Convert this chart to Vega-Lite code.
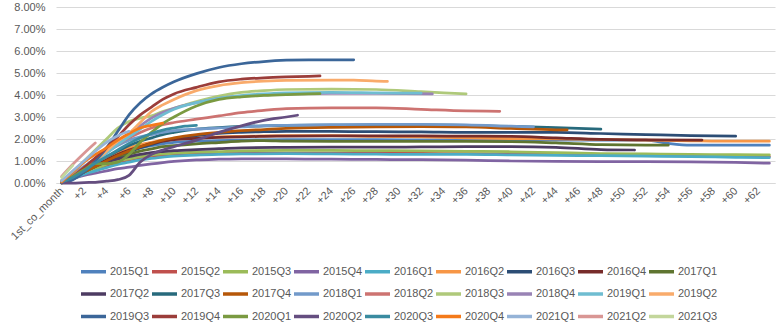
{
"$schema":"https://vega.github.io/schema/vega-lite/v6.json",
"width":719,"height":176,
"autosize":{"type":"none"},
"padding":{"left":56,"top":7,"right":8,"bottom":145},
"background":"#ffffff",
"config":{"view":{"stroke":null},"font":"Liberation Sans"},
"datasets":{"d":[
{"s":"2015Q1","m":0,"v":0.1},{"s":"2015Q1","m":1,"v":0.35},{"s":"2015Q1","m":2,"v":0.6},{"s":"2015Q1","m":3,"v":0.85},{"s":"2015Q1","m":4,"v":1.1},{"s":"2015Q1","m":5,"v":1.3},{"s":"2015Q1","m":6,"v":1.45},{"s":"2015Q1","m":7,"v":1.6},{"s":"2015Q1","m":8,"v":1.7},{"s":"2015Q1","m":9,"v":1.78},{"s":"2015Q1","m":10,"v":1.85},{"s":"2015Q1","m":12,"v":1.9},{"s":"2015Q1","m":14,"v":1.93},{"s":"2015Q1","m":16,"v":1.95},{"s":"2015Q1","m":20,"v":1.97},{"s":"2015Q1","m":24,"v":1.97},{"s":"2015Q1","m":28,"v":1.97},{"s":"2015Q1","m":32,"v":1.96},{"s":"2015Q1","m":36,"v":1.95},{"s":"2015Q1","m":40,"v":1.95},{"s":"2015Q1","m":44,"v":1.95},{"s":"2015Q1","m":48,"v":1.95},{"s":"2015Q1","m":52,"v":1.95},{"s":"2015Q1","m":54,"v":1.8},{"s":"2015Q1","m":56,"v":1.72},{"s":"2015Q1","m":60,"v":1.72},{"s":"2015Q1","m":63,"v":1.72},
{"s":"2015Q2","m":0,"v":0.05},{"s":"2015Q2","m":1,"v":0.2},{"s":"2015Q2","m":2,"v":0.4},{"s":"2015Q2","m":3,"v":0.6},{"s":"2015Q2","m":4,"v":0.8},{"s":"2015Q2","m":5,"v":0.95},{"s":"2015Q2","m":6,"v":1.05},{"s":"2015Q2","m":7,"v":1.15},{"s":"2015Q2","m":8,"v":1.2},{"s":"2015Q2","m":9,"v":1.25},{"s":"2015Q2","m":10,"v":1.28},{"s":"2015Q2","m":12,"v":1.32},{"s":"2015Q2","m":14,"v":1.34},{"s":"2015Q2","m":16,"v":1.35},{"s":"2015Q2","m":20,"v":1.36},{"s":"2015Q2","m":24,"v":1.36},{"s":"2015Q2","m":28,"v":1.36},{"s":"2015Q2","m":32,"v":1.35},{"s":"2015Q2","m":36,"v":1.33},{"s":"2015Q2","m":40,"v":1.32},{"s":"2015Q2","m":44,"v":1.3},{"s":"2015Q2","m":48,"v":1.28},{"s":"2015Q2","m":52,"v":1.26},{"s":"2015Q2","m":56,"v":1.24},{"s":"2015Q2","m":60,"v":1.22},{"s":"2015Q2","m":63,"v":1.2},
{"s":"2015Q3","m":0,"v":0.05},{"s":"2015Q3","m":1,"v":0.25},{"s":"2015Q3","m":2,"v":0.45},{"s":"2015Q3","m":3,"v":0.65},{"s":"2015Q3","m":4,"v":0.85},{"s":"2015Q3","m":5,"v":1.0},{"s":"2015Q3","m":6,"v":1.1},{"s":"2015Q3","m":7,"v":1.2},{"s":"2015Q3","m":8,"v":1.27},{"s":"2015Q3","m":9,"v":1.32},{"s":"2015Q3","m":10,"v":1.36},{"s":"2015Q3","m":12,"v":1.4},{"s":"2015Q3","m":14,"v":1.43},{"s":"2015Q3","m":16,"v":1.46},{"s":"2015Q3","m":20,"v":1.48},{"s":"2015Q3","m":24,"v":1.48},{"s":"2015Q3","m":28,"v":1.47},{"s":"2015Q3","m":32,"v":1.46},{"s":"2015Q3","m":36,"v":1.44},{"s":"2015Q3","m":40,"v":1.42},{"s":"2015Q3","m":44,"v":1.38},{"s":"2015Q3","m":48,"v":1.34},{"s":"2015Q3","m":52,"v":1.32},{"s":"2015Q3","m":56,"v":1.3},{"s":"2015Q3","m":60,"v":1.29},{"s":"2015Q3","m":63,"v":1.28},
{"s":"2015Q4","m":0,"v":0.05},{"s":"2015Q4","m":1,"v":0.2},{"s":"2015Q4","m":2,"v":0.35},{"s":"2015Q4","m":3,"v":0.45},{"s":"2015Q4","m":4,"v":0.55},{"s":"2015Q4","m":5,"v":0.65},{"s":"2015Q4","m":6,"v":0.72},{"s":"2015Q4","m":7,"v":0.8},{"s":"2015Q4","m":8,"v":0.87},{"s":"2015Q4","m":9,"v":0.93},{"s":"2015Q4","m":10,"v":0.98},{"s":"2015Q4","m":12,"v":1.05},{"s":"2015Q4","m":14,"v":1.08},{"s":"2015Q4","m":16,"v":1.1},{"s":"2015Q4","m":20,"v":1.1},{"s":"2015Q4","m":24,"v":1.08},{"s":"2015Q4","m":28,"v":1.07},{"s":"2015Q4","m":32,"v":1.06},{"s":"2015Q4","m":36,"v":1.04},{"s":"2015Q4","m":40,"v":1.0},{"s":"2015Q4","m":44,"v":0.98},{"s":"2015Q4","m":48,"v":0.97},{"s":"2015Q4","m":52,"v":0.97},{"s":"2015Q4","m":56,"v":0.96},{"s":"2015Q4","m":60,"v":0.94},{"s":"2015Q4","m":63,"v":0.9},
{"s":"2016Q1","m":0,"v":0.05},{"s":"2016Q1","m":1,"v":0.2},{"s":"2016Q1","m":2,"v":0.4},{"s":"2016Q1","m":3,"v":0.55},{"s":"2016Q1","m":4,"v":0.7},{"s":"2016Q1","m":5,"v":0.85},{"s":"2016Q1","m":6,"v":0.95},{"s":"2016Q1","m":7,"v":1.05},{"s":"2016Q1","m":8,"v":1.12},{"s":"2016Q1","m":9,"v":1.18},{"s":"2016Q1","m":10,"v":1.22},{"s":"2016Q1","m":12,"v":1.27},{"s":"2016Q1","m":14,"v":1.3},{"s":"2016Q1","m":16,"v":1.32},{"s":"2016Q1","m":20,"v":1.33},{"s":"2016Q1","m":24,"v":1.32},{"s":"2016Q1","m":28,"v":1.31},{"s":"2016Q1","m":32,"v":1.3},{"s":"2016Q1","m":36,"v":1.3},{"s":"2016Q1","m":40,"v":1.28},{"s":"2016Q1","m":44,"v":1.26},{"s":"2016Q1","m":48,"v":1.24},{"s":"2016Q1","m":52,"v":1.22},{"s":"2016Q1","m":56,"v":1.2},{"s":"2016Q1","m":60,"v":1.17},{"s":"2016Q1","m":63,"v":1.15},
{"s":"2016Q2","m":0,"v":0.05},{"s":"2016Q2","m":1,"v":0.3},{"s":"2016Q2","m":2,"v":0.6},{"s":"2016Q2","m":3,"v":0.9},{"s":"2016Q2","m":4,"v":1.15},{"s":"2016Q2","m":5,"v":1.4},{"s":"2016Q2","m":6,"v":1.6},{"s":"2016Q2","m":7,"v":1.75},{"s":"2016Q2","m":8,"v":1.85},{"s":"2016Q2","m":9,"v":1.95},{"s":"2016Q2","m":10,"v":2.0},{"s":"2016Q2","m":12,"v":2.05},{"s":"2016Q2","m":14,"v":2.1},{"s":"2016Q2","m":16,"v":2.12},{"s":"2016Q2","m":20,"v":2.15},{"s":"2016Q2","m":24,"v":2.15},{"s":"2016Q2","m":28,"v":2.12},{"s":"2016Q2","m":32,"v":2.1},{"s":"2016Q2","m":36,"v":2.05},{"s":"2016Q2","m":40,"v":2.02},{"s":"2016Q2","m":44,"v":2.0},{"s":"2016Q2","m":48,"v":1.98},{"s":"2016Q2","m":52,"v":1.95},{"s":"2016Q2","m":56,"v":1.92},{"s":"2016Q2","m":60,"v":1.9},{"s":"2016Q2","m":63,"v":1.9},
{"s":"2016Q3","m":0,"v":0.05},{"s":"2016Q3","m":1,"v":0.25},{"s":"2016Q3","m":2,"v":0.5},{"s":"2016Q3","m":3,"v":0.75},{"s":"2016Q3","m":4,"v":1.0},{"s":"2016Q3","m":5,"v":1.2},{"s":"2016Q3","m":6,"v":1.4},{"s":"2016Q3","m":7,"v":1.6},{"s":"2016Q3","m":8,"v":1.75},{"s":"2016Q3","m":9,"v":1.9},{"s":"2016Q3","m":10,"v":2.0},{"s":"2016Q3","m":12,"v":2.15},{"s":"2016Q3","m":14,"v":2.25},{"s":"2016Q3","m":16,"v":2.3},{"s":"2016Q3","m":18,"v":2.33},{"s":"2016Q3","m":20,"v":2.35},{"s":"2016Q3","m":24,"v":2.35},{"s":"2016Q3","m":28,"v":2.33},{"s":"2016Q3","m":32,"v":2.32},{"s":"2016Q3","m":36,"v":2.3},{"s":"2016Q3","m":40,"v":2.3},{"s":"2016Q3","m":44,"v":2.3},{"s":"2016Q3","m":48,"v":2.25},{"s":"2016Q3","m":52,"v":2.2},{"s":"2016Q3","m":56,"v":2.15},{"s":"2016Q3","m":60,"v":2.13},
{"s":"2016Q4","m":0,"v":0.05},{"s":"2016Q4","m":1,"v":0.3},{"s":"2016Q4","m":2,"v":0.55},{"s":"2016Q4","m":3,"v":0.8},{"s":"2016Q4","m":4,"v":1.05},{"s":"2016Q4","m":5,"v":1.3},{"s":"2016Q4","m":6,"v":1.5},{"s":"2016Q4","m":7,"v":1.65},{"s":"2016Q4","m":8,"v":1.8},{"s":"2016Q4","m":9,"v":1.9},{"s":"2016Q4","m":10,"v":1.97},{"s":"2016Q4","m":12,"v":2.03},{"s":"2016Q4","m":14,"v":2.07},{"s":"2016Q4","m":16,"v":2.1},{"s":"2016Q4","m":18,"v":2.12},{"s":"2016Q4","m":20,"v":2.13},{"s":"2016Q4","m":24,"v":2.14},{"s":"2016Q4","m":28,"v":2.14},{"s":"2016Q4","m":32,"v":2.14},{"s":"2016Q4","m":36,"v":2.13},{"s":"2016Q4","m":40,"v":2.12},{"s":"2016Q4","m":44,"v":2.05},{"s":"2016Q4","m":48,"v":1.98},{"s":"2016Q4","m":52,"v":1.96},{"s":"2016Q4","m":57,"v":1.95},
{"s":"2017Q1","m":0,"v":0.05},{"s":"2017Q1","m":1,"v":0.25},{"s":"2017Q1","m":2,"v":0.5},{"s":"2017Q1","m":3,"v":0.75},{"s":"2017Q1","m":4,"v":0.95},{"s":"2017Q1","m":5,"v":1.15},{"s":"2017Q1","m":6,"v":1.3},{"s":"2017Q1","m":7,"v":1.45},{"s":"2017Q1","m":8,"v":1.55},{"s":"2017Q1","m":9,"v":1.65},{"s":"2017Q1","m":10,"v":1.7},{"s":"2017Q1","m":12,"v":1.78},{"s":"2017Q1","m":14,"v":1.84},{"s":"2017Q1","m":16,"v":1.9},{"s":"2017Q1","m":18,"v":1.93},{"s":"2017Q1","m":20,"v":1.9},{"s":"2017Q1","m":24,"v":1.89},{"s":"2017Q1","m":28,"v":1.89},{"s":"2017Q1","m":32,"v":1.89},{"s":"2017Q1","m":36,"v":1.89},{"s":"2017Q1","m":40,"v":1.88},{"s":"2017Q1","m":44,"v":1.82},{"s":"2017Q1","m":48,"v":1.74},{"s":"2017Q1","m":52,"v":1.72},{"s":"2017Q1","m":54,"v":1.72},
{"s":"2017Q2","m":0,"v":0.05},{"s":"2017Q2","m":1,"v":0.3},{"s":"2017Q2","m":2,"v":0.55},{"s":"2017Q2","m":3,"v":0.8},{"s":"2017Q2","m":4,"v":0.95},{"s":"2017Q2","m":5,"v":1.1},{"s":"2017Q2","m":6,"v":1.2},{"s":"2017Q2","m":7,"v":1.3},{"s":"2017Q2","m":8,"v":1.38},{"s":"2017Q2","m":9,"v":1.43},{"s":"2017Q2","m":10,"v":1.47},{"s":"2017Q2","m":12,"v":1.52},{"s":"2017Q2","m":14,"v":1.56},{"s":"2017Q2","m":16,"v":1.6},{"s":"2017Q2","m":20,"v":1.62},{"s":"2017Q2","m":24,"v":1.63},{"s":"2017Q2","m":28,"v":1.63},{"s":"2017Q2","m":32,"v":1.64},{"s":"2017Q2","m":36,"v":1.65},{"s":"2017Q2","m":40,"v":1.65},{"s":"2017Q2","m":44,"v":1.62},{"s":"2017Q2","m":48,"v":1.52},{"s":"2017Q2","m":51,"v":1.5},
{"s":"2017Q3","m":0,"v":0.05},{"s":"2017Q3","m":1,"v":0.3},{"s":"2017Q3","m":2,"v":0.6},{"s":"2017Q3","m":3,"v":0.9},{"s":"2017Q3","m":4,"v":1.2},{"s":"2017Q3","m":5,"v":1.45},{"s":"2017Q3","m":6,"v":1.7},{"s":"2017Q3","m":7,"v":1.9},{"s":"2017Q3","m":8,"v":2.05},{"s":"2017Q3","m":9,"v":2.2},{"s":"2017Q3","m":10,"v":2.3},{"s":"2017Q3","m":12,"v":2.45},{"s":"2017Q3","m":14,"v":2.52},{"s":"2017Q3","m":16,"v":2.57},{"s":"2017Q3","m":18,"v":2.6},{"s":"2017Q3","m":20,"v":2.62},{"s":"2017Q3","m":24,"v":2.63},{"s":"2017Q3","m":28,"v":2.64},{"s":"2017Q3","m":32,"v":2.64},{"s":"2017Q3","m":36,"v":2.62},{"s":"2017Q3","m":40,"v":2.57},{"s":"2017Q3","m":44,"v":2.52},{"s":"2017Q3","m":48,"v":2.45},
{"s":"2017Q4","m":0,"v":0.05},{"s":"2017Q4","m":1,"v":0.25},{"s":"2017Q4","m":2,"v":0.5},{"s":"2017Q4","m":3,"v":0.75},{"s":"2017Q4","m":4,"v":1.0},{"s":"2017Q4","m":5,"v":1.25},{"s":"2017Q4","m":6,"v":1.45},{"s":"2017Q4","m":7,"v":1.65},{"s":"2017Q4","m":8,"v":1.8},{"s":"2017Q4","m":9,"v":1.95},{"s":"2017Q4","m":10,"v":2.05},{"s":"2017Q4","m":12,"v":2.2},{"s":"2017Q4","m":14,"v":2.3},{"s":"2017Q4","m":16,"v":2.38},{"s":"2017Q4","m":18,"v":2.43},{"s":"2017Q4","m":20,"v":2.48},{"s":"2017Q4","m":24,"v":2.53},{"s":"2017Q4","m":28,"v":2.55},{"s":"2017Q4","m":32,"v":2.56},{"s":"2017Q4","m":36,"v":2.55},{"s":"2017Q4","m":40,"v":2.48},{"s":"2017Q4","m":44,"v":2.42},{"s":"2017Q4","m":45,"v":2.42},
{"s":"2018Q1","m":0,"v":0.1},{"s":"2018Q1","m":1,"v":0.4},{"s":"2018Q1","m":2,"v":0.75},{"s":"2018Q1","m":3,"v":1.1},{"s":"2018Q1","m":4,"v":1.4},{"s":"2018Q1","m":5,"v":1.7},{"s":"2018Q1","m":6,"v":1.95},{"s":"2018Q1","m":7,"v":2.1},{"s":"2018Q1","m":8,"v":2.2},{"s":"2018Q1","m":9,"v":2.3},{"s":"2018Q1","m":10,"v":2.38},{"s":"2018Q1","m":12,"v":2.45},{"s":"2018Q1","m":14,"v":2.5},{"s":"2018Q1","m":16,"v":2.55},{"s":"2018Q1","m":18,"v":2.6},{"s":"2018Q1","m":20,"v":2.62},{"s":"2018Q1","m":24,"v":2.65},{"s":"2018Q1","m":28,"v":2.66},{"s":"2018Q1","m":32,"v":2.66},{"s":"2018Q1","m":36,"v":2.64},{"s":"2018Q1","m":40,"v":2.58},{"s":"2018Q1","m":42,"v":2.55},
{"s":"2018Q2","m":0,"v":0.1},{"s":"2018Q2","m":1,"v":0.35},{"s":"2018Q2","m":2,"v":0.7},{"s":"2018Q2","m":3,"v":1.05},{"s":"2018Q2","m":4,"v":1.4},{"s":"2018Q2","m":5,"v":1.75},{"s":"2018Q2","m":6,"v":2.05},{"s":"2018Q2","m":7,"v":2.3},{"s":"2018Q2","m":8,"v":2.5},{"s":"2018Q2","m":9,"v":2.65},{"s":"2018Q2","m":10,"v":2.75},{"s":"2018Q2","m":12,"v":2.9},{"s":"2018Q2","m":14,"v":3.05},{"s":"2018Q2","m":16,"v":3.2},{"s":"2018Q2","m":18,"v":3.3},{"s":"2018Q2","m":20,"v":3.38},{"s":"2018Q2","m":24,"v":3.42},{"s":"2018Q2","m":28,"v":3.42},{"s":"2018Q2","m":32,"v":3.35},{"s":"2018Q2","m":36,"v":3.28},{"s":"2018Q2","m":39,"v":3.26},
{"s":"2018Q3","m":0,"v":0.1},{"s":"2018Q3","m":1,"v":0.5},{"s":"2018Q3","m":2,"v":1.0},{"s":"2018Q3","m":3,"v":1.5},{"s":"2018Q3","m":4,"v":2.0},{"s":"2018Q3","m":5,"v":2.5},{"s":"2018Q3","m":6,"v":2.8},{"s":"2018Q3","m":7,"v":2.95},{"s":"2018Q3","m":8,"v":3.05},{"s":"2018Q3","m":9,"v":3.25},{"s":"2018Q3","m":10,"v":3.4},{"s":"2018Q3","m":12,"v":3.7},{"s":"2018Q3","m":14,"v":3.95},{"s":"2018Q3","m":16,"v":4.12},{"s":"2018Q3","m":18,"v":4.2},{"s":"2018Q3","m":20,"v":4.25},{"s":"2018Q3","m":24,"v":4.27},{"s":"2018Q3","m":28,"v":4.25},{"s":"2018Q3","m":32,"v":4.15},{"s":"2018Q3","m":36,"v":4.05},
{"s":"2018Q4","m":0,"v":0.05},{"s":"2018Q4","m":1,"v":0.3},{"s":"2018Q4","m":2,"v":0.65},{"s":"2018Q4","m":3,"v":1.0},{"s":"2018Q4","m":4,"v":1.4},{"s":"2018Q4","m":5,"v":1.8},{"s":"2018Q4","m":6,"v":2.2},{"s":"2018Q4","m":7,"v":2.6},{"s":"2018Q4","m":8,"v":2.95},{"s":"2018Q4","m":9,"v":3.2},{"s":"2018Q4","m":10,"v":3.4},{"s":"2018Q4","m":12,"v":3.65},{"s":"2018Q4","m":14,"v":3.85},{"s":"2018Q4","m":16,"v":3.95},{"s":"2018Q4","m":18,"v":4.0},{"s":"2018Q4","m":20,"v":4.05},{"s":"2018Q4","m":24,"v":4.07},{"s":"2018Q4","m":28,"v":4.07},{"s":"2018Q4","m":33,"v":4.05},
{"s":"2019Q1","m":0,"v":0.05},{"s":"2019Q1","m":1,"v":0.3},{"s":"2019Q1","m":2,"v":0.6},{"s":"2019Q1","m":3,"v":0.95},{"s":"2019Q1","m":4,"v":1.35},{"s":"2019Q1","m":5,"v":1.75},{"s":"2019Q1","m":6,"v":2.1},{"s":"2019Q1","m":7,"v":2.45},{"s":"2019Q1","m":8,"v":2.8},{"s":"2019Q1","m":9,"v":3.1},{"s":"2019Q1","m":10,"v":3.35},{"s":"2019Q1","m":12,"v":3.65},{"s":"2019Q1","m":14,"v":3.85},{"s":"2019Q1","m":16,"v":3.97},{"s":"2019Q1","m":18,"v":4.05},{"s":"2019Q1","m":20,"v":4.1},{"s":"2019Q1","m":24,"v":4.12},{"s":"2019Q1","m":28,"v":4.1},{"s":"2019Q1","m":32,"v":4.08},
{"s":"2019Q2","m":0,"v":0.05},{"s":"2019Q2","m":1,"v":0.25},{"s":"2019Q2","m":2,"v":0.6},{"s":"2019Q2","m":3,"v":1.0},{"s":"2019Q2","m":4,"v":1.45},{"s":"2019Q2","m":5,"v":1.9},{"s":"2019Q2","m":6,"v":2.25},{"s":"2019Q2","m":7,"v":2.75},{"s":"2019Q2","m":8,"v":3.25},{"s":"2019Q2","m":9,"v":3.55},{"s":"2019Q2","m":10,"v":3.8},{"s":"2019Q2","m":12,"v":4.2},{"s":"2019Q2","m":14,"v":4.43},{"s":"2019Q2","m":16,"v":4.56},{"s":"2019Q2","m":18,"v":4.63},{"s":"2019Q2","m":20,"v":4.67},{"s":"2019Q2","m":24,"v":4.68},{"s":"2019Q2","m":26,"v":4.68},{"s":"2019Q2","m":28,"v":4.63},{"s":"2019Q2","m":29,"v":4.62},
{"s":"2019Q3","m":0,"v":0.0},{"s":"2019Q3","m":1,"v":0.15},{"s":"2019Q3","m":2,"v":0.5},{"s":"2019Q3","m":3,"v":1.0},{"s":"2019Q3","m":4,"v":1.6},{"s":"2019Q3","m":5,"v":2.35},{"s":"2019Q3","m":6,"v":3.1},{"s":"2019Q3","m":7,"v":3.65},{"s":"2019Q3","m":8,"v":4.05},{"s":"2019Q3","m":9,"v":4.35},{"s":"2019Q3","m":10,"v":4.6},{"s":"2019Q3","m":12,"v":4.97},{"s":"2019Q3","m":14,"v":5.25},{"s":"2019Q3","m":16,"v":5.42},{"s":"2019Q3","m":18,"v":5.52},{"s":"2019Q3","m":20,"v":5.58},{"s":"2019Q3","m":22,"v":5.6},{"s":"2019Q3","m":24,"v":5.6},{"s":"2019Q3","m":26,"v":5.6},
{"s":"2019Q4","m":0,"v":0.05},{"s":"2019Q4","m":1,"v":0.3},{"s":"2019Q4","m":2,"v":0.7},{"s":"2019Q4","m":3,"v":1.15},{"s":"2019Q4","m":4,"v":1.6},{"s":"2019Q4","m":5,"v":2.1},{"s":"2019Q4","m":6,"v":2.65},{"s":"2019Q4","m":7,"v":3.1},{"s":"2019Q4","m":8,"v":3.45},{"s":"2019Q4","m":9,"v":3.8},{"s":"2019Q4","m":10,"v":4.05},{"s":"2019Q4","m":12,"v":4.35},{"s":"2019Q4","m":14,"v":4.6},{"s":"2019Q4","m":16,"v":4.72},{"s":"2019Q4","m":18,"v":4.78},{"s":"2019Q4","m":20,"v":4.82},{"s":"2019Q4","m":22,"v":4.85},{"s":"2019Q4","m":23,"v":4.87},
{"s":"2020Q1","m":0,"v":0.0},{"s":"2020Q1","m":1,"v":0.3},{"s":"2020Q1","m":2,"v":0.6},{"s":"2020Q1","m":3,"v":0.88},{"s":"2020Q1","m":4,"v":0.88},{"s":"2020Q1","m":5,"v":0.95},{"s":"2020Q1","m":6,"v":1.3},{"s":"2020Q1","m":7,"v":1.85},{"s":"2020Q1","m":8,"v":2.3},{"s":"2020Q1","m":9,"v":2.7},{"s":"2020Q1","m":10,"v":3.0},{"s":"2020Q1","m":12,"v":3.5},{"s":"2020Q1","m":14,"v":3.8},{"s":"2020Q1","m":16,"v":3.92},{"s":"2020Q1","m":18,"v":3.98},{"s":"2020Q1","m":20,"v":4.02},{"s":"2020Q1","m":22,"v":4.05},{"s":"2020Q1","m":23,"v":4.06},
{"s":"2020Q2","m":0,"v":0.0},{"s":"2020Q2","m":1,"v":0.0},{"s":"2020Q2","m":2,"v":0.02},{"s":"2020Q2","m":3,"v":0.03},{"s":"2020Q2","m":4,"v":0.08},{"s":"2020Q2","m":5,"v":0.15},{"s":"2020Q2","m":6,"v":0.35},{"s":"2020Q2","m":7,"v":0.95},{"s":"2020Q2","m":8,"v":1.3},{"s":"2020Q2","m":9,"v":1.5},{"s":"2020Q2","m":10,"v":1.65},{"s":"2020Q2","m":12,"v":1.95},{"s":"2020Q2","m":14,"v":2.3},{"s":"2020Q2","m":16,"v":2.6},{"s":"2020Q2","m":18,"v":2.85},{"s":"2020Q2","m":20,"v":3.0},{"s":"2020Q2","m":21,"v":3.08},
{"s":"2020Q3","m":0,"v":0.05},{"s":"2020Q3","m":1,"v":0.25},{"s":"2020Q3","m":2,"v":0.55},{"s":"2020Q3","m":3,"v":0.9},{"s":"2020Q3","m":4,"v":1.2},{"s":"2020Q3","m":5,"v":1.5},{"s":"2020Q3","m":6,"v":1.8},{"s":"2020Q3","m":7,"v":2.05},{"s":"2020Q3","m":8,"v":2.25},{"s":"2020Q3","m":9,"v":2.4},{"s":"2020Q3","m":10,"v":2.5},{"s":"2020Q3","m":11,"v":2.58},{"s":"2020Q3","m":12,"v":2.62},
{"s":"2020Q4","m":0,"v":0.05},{"s":"2020Q4","m":1,"v":0.5},{"s":"2020Q4","m":2,"v":0.95},{"s":"2020Q4","m":3,"v":1.3},{"s":"2020Q4","m":4,"v":1.6},{"s":"2020Q4","m":5,"v":1.95},{"s":"2020Q4","m":6,"v":2.25},{"s":"2020Q4","m":7,"v":2.5},{"s":"2020Q4","m":8,"v":2.62},{"s":"2020Q4","m":9,"v":2.72},
{"s":"2021Q1","m":0,"v":0.1},{"s":"2021Q1","m":1,"v":0.55},{"s":"2021Q1","m":2,"v":1.0},{"s":"2021Q1","m":3,"v":1.45},{"s":"2021Q1","m":4,"v":1.85},{"s":"2021Q1","m":5,"v":2.15},{"s":"2021Q1","m":6,"v":2.35},
{"s":"2021Q2","m":0,"v":0.3},{"s":"2021Q2","m":1,"v":0.85},{"s":"2021Q2","m":2,"v":1.35},{"s":"2021Q2","m":3,"v":1.82},
{"s":"2021Q3","m":0,"v":0.25},{"s":"2021Q3","m":1,"v":0.8}
]},
"data":{"name":"d"},
"mark":{"type":"line","strokeWidth":2.75,"interpolate":"monotone","strokeCap":"round"},
"encoding":{
"x":{"field":"m","type":"quantitative","scale":{"domain":[-0.5,63.5],"nice":false,"zero":false},
"axis":{"title":null,"values":[0,2,4,6,8,10,12,14,16,18,20,22,24,26,28,30,32,34,36,38,40,42,44,46,48,50,52,54,56,58,60,62],
"labelExpr":"datum.value==0?'1st_co_month':'+'+datum.value","labelAngle":-45,"labelAlign":"right","labelBaseline":"middle","labelPadding":6,
"ticks":false,"grid":false,"domainColor":"#D9D9D9","labelColor":"#595959","labelFontSize":11,"labelFont":"Liberation Sans","labelOverlap":false,"labelBound":false}},
"y":{"field":"v","type":"quantitative","scale":{"domain":[0,8],"nice":false},
"axis":{"title":null,"values":[0,1,2,3,4,5,6,7,8],"labelExpr":"format(datum.value,'.2f')+'%'","ticks":false,"domain":false,
"gridColor":"#D9D9D9","gridWidth":1,"labelColor":"#595959","labelFontSize":11,"labelFont":"Liberation Sans","labelPadding":11}},
"color":{"field":"s","type":"nominal",
"scale":{"domain":["2015Q1","2015Q2","2015Q3","2015Q4","2016Q1","2016Q2","2016Q3","2016Q4","2017Q1","2017Q2","2017Q3","2017Q4","2018Q1","2018Q2","2018Q3","2018Q4","2019Q1","2019Q2","2019Q3","2019Q4","2020Q1","2020Q2","2020Q3","2020Q4","2021Q1","2021Q2","2021Q3"],
"range":["#4F81BD","#C0504D","#9BBB59","#8064A2","#4BACC6","#F79646","#2C4D75","#772C2A","#5F7530","#4D3B62","#276A7C","#B65708","#729ACA","#CD7371","#AFC97A","#9983B5","#6FBDD1","#F9AB6B","#3B6699","#9B3D3A","#7A9A41","#654E80","#3A8BA0","#F47A1A","#95B3D7","#D99694","#C3D69B"]},
"legend":{"title":null,"orient":"none","legendX":23,"legendY":250,"direction":"horizontal","columns":9,"symbolType":"stroke","symbolSize":625,"symbolStrokeWidth":3.5,
"labelFontSize":11,"labelFont":"Liberation Sans","labelColor":"#595959","labelOffset":2,"columnPadding":-6,"rowPadding":0.5,"gridAlign":"all","labelLimit":0}}
}
}
